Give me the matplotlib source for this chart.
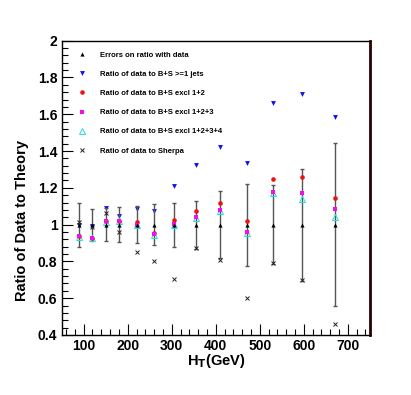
import matplotlib
matplotlib.use("Agg")
import matplotlib.pyplot as plt
from matplotlib.ticker import MultipleLocator

ht = [90, 120, 150, 180, 220, 260, 305, 355, 410, 470, 530, 595, 670]
err_center = [1.0] * 13
err_size = [0.12, 0.087, 0.09, 0.094, 0.10, 0.11, 0.12, 0.13, 0.183, 0.223, 0.214, 0.305, 0.445]
ratio_ge1 = [1.0, 0.99, 1.09, 1.047, 1.083, 1.074, 1.212, 1.326, 1.42, 1.334, 1.663, 1.709, 1.587]
ratio_excl12 = [0.938, 0.929, 1.018, 1.022, 1.013, 0.955, 1.024, 1.076, 1.116, 1.02, 1.25, 1.257, 1.147]
ratio_excl123 = [0.938, 0.929, 1.018, 1.022, 1.0, 0.95, 1.002, 1.04, 1.08, 0.962, 1.18, 1.174, 1.085]
ratio_excl1234 = [0.935, 0.926, 1.015, 1.018, 0.998, 0.945, 0.998, 1.035, 1.075, 0.955, 1.171, 1.14, 1.04]
ratio_sherpa = [1.016, 0.985, 1.065, 0.962, 0.851, 0.804, 0.703, 0.871, 0.808, 0.60, 0.793, 0.70, 0.458]

labels = ["Errors on ratio with data",
          "Ratio of data to B+S >=1 jets",
          "Ratio of data to B+S excl 1+2",
          "Ratio of data to B+S excl 1+2+3",
          "Ratio of data to B+S excl 1+2+3+4",
          "Ratio of data to Sherpa"]

plt.rcParams['font.family'] = ['Liberation Sans', 'DejaVu Sans']

fig = plt.figure(figsize=(4.11, 3.95), dpi=100)
ax = fig.add_axes([0.150, 0.152, 0.750, 0.745])

h_blue, = ax.plot(ht, ratio_ge1, linestyle='none', marker='v', color='#1010ee', ms=3.5, mew=0)
ax.errorbar(ht, err_center, yerr=err_size, fmt='none', ecolor='#555555', elinewidth=1.0,
            capsize=1.5, capthick=1.0, zorder=2)
h_cyan, = ax.plot(ht, ratio_excl1234, linestyle='none', marker='^', mfc='none', mec='#22dddd',
                  ms=3.8, mew=0.7, zorder=3)
h_red, = ax.plot(ht, ratio_excl12, linestyle='none', marker='o', color='#ee1111', ms=3.3, mew=0, zorder=3)
h_mag, = ax.plot(ht, ratio_excl123, linestyle='none', marker='s', color='#ee11ee', ms=3.0, mew=0, zorder=4)
h_sh, = ax.plot(ht, ratio_sherpa, linestyle='none', marker='x', color='#222222', ms=3.2, mew=0.7, zorder=4)
h_err, = ax.plot(ht, err_center, linestyle='none', marker='^', color='black', ms=3.0, mew=0, zorder=5)

leg = ax.legend([h_err, h_blue, h_red, h_mag, h_cyan, h_sh], labels, loc='upper left',
                bbox_to_anchor=(0.025, 0.982), frameon=False,
                prop={'size': 5.5, 'weight': 'bold'}, labelspacing=1.55,
                handlelength=2.0, handletextpad=1.3, borderaxespad=0.3)

ax.set_xlim(50, 750)
ax.set_ylim(0.4, 2.0)
ax.xaxis.set_major_locator(MultipleLocator(100))
ax.xaxis.set_minor_locator(MultipleLocator(20))
ax.yaxis.set_major_locator(MultipleLocator(0.2))
ax.yaxis.set_minor_locator(MultipleLocator(0.04))
ax.tick_params(which='both', direction='in', top=False, right=False, labelsize=10, pad=3)
ax.tick_params(which='major', length=8, width=0.8)
ax.tick_params(which='minor', length=4, width=0.8)
for lab in ax.get_xticklabels() + ax.get_yticklabels():
    lab.set_fontweight('bold')
ax.yaxis.set_major_formatter(matplotlib.ticker.FuncFormatter(lambda v, p: ('%.1f' % v).rstrip('0').rstrip('.')))

ax.set_xlabel(r'H$_\mathbf{T}$(GeV)', fontsize=10.5, fontweight='bold')
ax.set_ylabel('Ratio of Data to Theory', fontsize=10.5, fontweight='bold')
ax.xaxis.set_label_coords(0.5, -0.058)
ax.yaxis.set_label_coords(-0.105, 0.39)

for s in ['left', 'bottom', 'top']:
    ax.spines[s].set_linewidth(1.0)
ax.spines['right'].set_linewidth(2.0)
ax.spines['right'].set_color('#2a0000')

fig.savefig('out.png', dpi=100)
